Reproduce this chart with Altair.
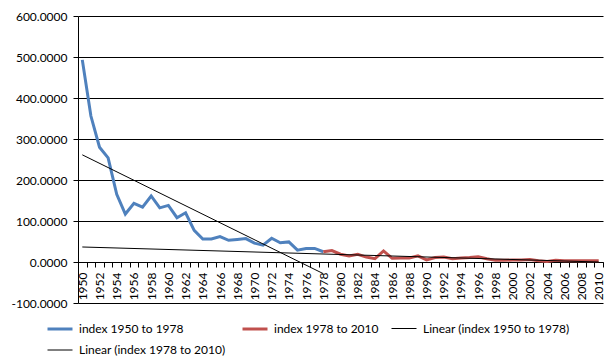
import altair as alt
import pandas as pd

# ---- data ----
years_a = list(range(1950, 1979))
index_a = [493, 356, 280, 254, 165, 117, 143, 134, 161, 132,
           138, 108, 120, 77, 56, 56, 62, 53, 55, 57,
           46, 41, 58, 47, 49, 29, 33, 33, 25]
years_b = list(range(1978, 2011))
index_b = [25, 28, 19, 15, 19, 12, 8, 27, 9, 10,
           10, 15, 5, 11, 12, 8, 10, 11, 13, 8,
           4, 4, 5, 5, 6, 3, 1, 4, 3, 3,
           3, 3, 3]
series_names = ["index 1950 to 1978", "index 1978 to 2010",
                "Linear (index 1950 to 1978)", "Linear (index 1978 to 2010)"]
series_colors = ["#4F81BD", "#C0504D", "#000000", "#000000"]
series_widths = [3, 3, 1, 1]
y_ticks = [-100, 0, 100, 200, 300, 400, 500, 600]
x_domain = [1949.5, 2010.5]
x_label_years = list(range(1950, 2011, 2))
x_tick_bounds = [y - 0.5 for y in range(1950, 2012)]

df = pd.DataFrame({
    "year": years_a + years_b,
    "value": index_a + index_b,
    "series": [series_names[0]] * len(years_a) + [series_names[1]] * len(years_b),
})

W, H = 525, 287
FONT = "Lato"
xs = alt.Scale(domain=x_domain, nice=False, zero=False)
ys = alt.Scale(domain=[-100, 600], nice=False, zero=False)

legend = alt.Legend(
    title=None, orient="none", legendX=-32, legendY=299, columns=3,
    direction="horizontal", symbolType="stroke", symbolSize=625,
    labelFont=FONT, labelFontSize=12, labelColor="black",
    columnPadding=10, rowPadding=2, labelOffset=5, padding=0,
)
color = alt.Color("series:N", scale=alt.Scale(domain=series_names, range=series_colors), legend=legend)
sw = alt.StrokeWidth("series:N", scale=alt.Scale(type="ordinal", domain=series_names, range=series_widths),
                     legend=legend)

tick_axis = alt.Axis(orient="bottom", values=x_tick_bounds, labels=False, ticks=True, tickSize=5,
                     tickColor="black", domain=True, domainColor="black",
                     grid=False, offset=-41, title=None)
label_axis = alt.Axis(orient="bottom", values=x_label_years, labels=True, ticks=False, domain=False,
                      grid=False, labelAngle=270, labelPadding=10, offset=-41,
                      title=None, format="d", labelOverlap=False, labelFlush=False,
                      labelFont=FONT, labelFontSize=12, labelColor="black")
y_axis = alt.Axis(orient="left", values=y_ticks, grid=False,
                  tickSize=5, tickColor="black", domain=True, domainColor="black",
                  labelPadding=6, title=None, labelFont=FONT, labelFontSize=12,
                  labelColor="black",
                  labelExpr="(datum.value < 0 ? '-' : '') + format(abs(datum.value), '.4f')")
# horizontal gridlines: a right-hand axis moved onto the left edge whose ticks span the plot
grid_axis = alt.Axis(orient="right", values=y_ticks, labels=False, domain=False, grid=False,
                     ticks=True, tickSize=W, tickColor="black", tickWidth=1,
                     offset=-W, title=None)

base = alt.Chart(df)

line_a = base.transform_filter(alt.datum.series == series_names[0]).mark_line().encode(
    x=alt.X("year:Q", scale=xs, axis=tick_axis),
    y=alt.Y("value:Q", scale=ys, axis=y_axis),
    color=color, strokeWidth=sw)

line_b = base.transform_filter(alt.datum.series == series_names[1]).mark_line().encode(
    x=alt.X("year:Q", scale=xs, axis=label_axis),
    y=alt.Y("value:Q", scale=ys, axis=grid_axis),
    color=color, strokeWidth=sw)

trend_a = (base.transform_filter(alt.datum.series == series_names[0])
           .transform_regression("year", "value", extent=[1950, 1978])
           .transform_calculate(series="'" + series_names[2] + "'")
           .mark_line().encode(
               x=alt.X("year:Q", scale=xs, axis=None),
               y=alt.Y("value:Q", scale=ys, axis=None),
               color=color, strokeWidth=sw))

trend_b = (base.transform_filter(alt.datum.series == series_names[1])
           .transform_regression("year", "value", extent=[1950, 2010])
           .transform_calculate(series="'" + series_names[3] + "'")
           .mark_line().encode(
               x=alt.X("year:Q", scale=xs, axis=None),
               y=alt.Y("value:Q", scale=ys, axis=None),
               color=color, strokeWidth=sw))

chart = (alt.layer(line_a, line_b, trend_a, trend_b)
         .resolve_axis(x="independent", y="independent")
         .properties(width=W, height=H,
                     autosize=alt.AutoSizeParams(type="none"),
                     padding={"left": 70, "top": 8, "right": 5, "bottom": 60},
                     background="white")
         .configure_view(stroke=None))

chart.save("out.html", embed_options={"renderer": "svg", "actions": False})
